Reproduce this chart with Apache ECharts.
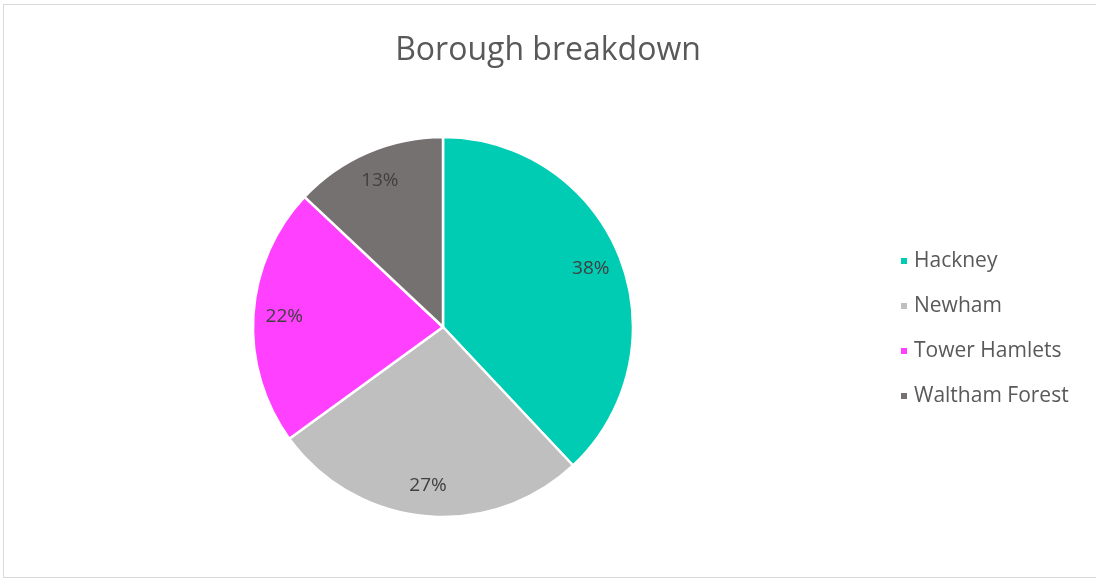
<!DOCTYPE html>
<html>
<head>
<meta charset="utf-8">
<script src="https://cdn.jsdelivr.net/npm/echarts@6/dist/echarts.min.js"></script>
<style>
html,body{margin:0;padding:0;background:#fff;}
#frame{position:absolute;left:3px;top:4px;width:1100px;height:574px;border:1.5px solid #d9d9d9;box-sizing:border-box;}
#main{position:absolute;left:0;top:0;width:1096px;height:579px;}
</style>
</head>
<body>
<div id="frame"></div>
<div id="main"></div>
<script>
const titleText = 'Borough breakdown';
const categories = ['Hackney', 'Newham', 'Tower Hamlets', 'Waltham Forest'];
const values = [38, 27, 22, 13];
const colors = ['#00CCB4', '#BFBFBF', '#FF40FF', '#767171'];

const chart = echarts.init(document.getElementById('main'), null, {renderer: 'canvas'});
const data = categories.map((c, i) => ({name: c, value: values[i], itemStyle: {color: colors[i]}}));
const font = '"Open Sans", "Liberation Sans", sans-serif';
chart.setOption({
  animation: false,
  backgroundColor: 'transparent',
  title: {
    text: titleText, left: 'center', top: 30,
    textStyle: {fontFamily: font, fontSize: 32, fontWeight: 'normal', color: '#595959'}
  },
  legend: {
    orient: 'vertical', left: 894, top: 245,
    icon: 'rect', itemWidth: 8, itemHeight: 8, itemGap: 23,
    data: categories,
    textStyle: {fontFamily: font, fontSize: 21, color: '#595959', lineHeight: 22, padding: [0,0,0,1]}
  },
  series: [
    {
      type: 'pie', center: [443, 327], radius: [0, 190],
      startAngle: 90, clockwise: true,
      itemStyle: {borderColor: '#fff', borderWidth: 2.5},
      label: {show: false}, labelLine: {show: false},
      data: data
    },
    {
      type: 'pie', center: [443, 327], radius: [122, 190],
      startAngle: 90, clockwise: true, silent: true,
      legendHoverLink: false,
      itemStyle: {color: 'transparent', borderWidth: 0},
      label: {show: true, position: 'inside', formatter: p => p.value + '%',
        fontFamily: font, fontSize: 19, color: '#404040'},
      labelLine: {show: false},
      data: categories.map((c, i) => ({name: c + ' ', value: values[i], itemStyle: {color: 'transparent'}}))
    }
  ]
});
</script>
</body>
</html>
